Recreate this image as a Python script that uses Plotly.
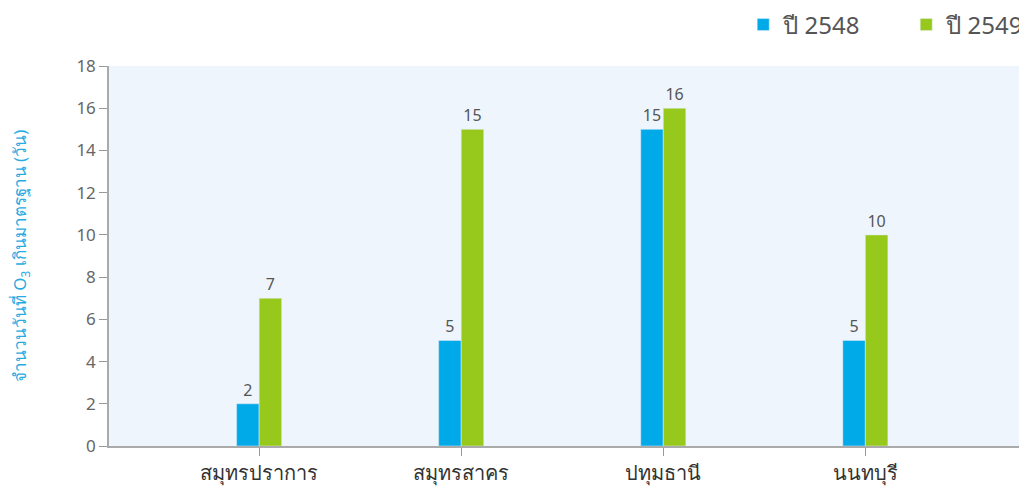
import plotly.graph_objects as go

categories = ["สมุทรปราการ", "สมุทรสาคร", "ปทุมธานี", "นนทบุรี"]
y2548 = [2, 5, 15, 5]
y2549 = [7, 15, 16, 10]
series_names = ["ปี 2548", "ปี 2549"]
y_ticks = [0, 2, 4, 6, 8, 10, 12, 14, 16, 18]

blue = "#00A9E8"
green = "#97C91D"

fig = go.Figure()
fig.add_trace(go.Bar(x=categories, y=y2548, name=series_names[0], marker_color=blue,
                     text=y2548, textposition="outside", cliponaxis=False,
                     textfont=dict(size=16, color="#555555")))
fig.add_trace(go.Bar(x=categories, y=y2549, name=series_names[1], marker_color=green,
                     text=y2549, textposition="outside", cliponaxis=False,
                     textfont=dict(size=16, color="#555555")))

fig.update_layout(
    width=1019, height=480,
    margin=dict(l=101, r=0, t=58, b=42, autoexpand=False),
    paper_bgcolor="white", plot_bgcolor="#EEF5FC",
    barmode="group", bargap=0.777, bargroupgap=0,
    font=dict(family="Noto Sans, DejaVu Sans", color="#555555"),
    legend=dict(orientation="h", x=1.046, xanchor="right", y=1.108,
                yanchor="middle", font=dict(size=24, color="#555555"),
                traceorder="normal", entrywidth=118, itemwidth=30),
    showlegend=True,
)
fig.update_xaxes(range=[-0.743, 3.8], showline=True, linecolor="#AAAAAA", linewidth=1.5,
                 ticks="outside", ticklen=8, tickcolor="#999999", automargin=False,
                 tickfont=dict(size=20, color="#333333"), showgrid=False)
fig.update_yaxes(range=[0, 18], tickvals=y_ticks, showline=True, linecolor="#AAAAAA",
                 linewidth=1.5, ticks="outside", ticklen=8, tickcolor="#999999",
                 automargin=False,
                 tickfont=dict(size=17, color="#666666"), showgrid=False, zeroline=False,
                 title=dict(text="จำนวนวันที่ O<sub>3</sub> เกินมาตรฐาน (วัน)",
                            font=dict(size=17, color="#29ABE2"), standoff=45))

fig.write_html("out.html")
